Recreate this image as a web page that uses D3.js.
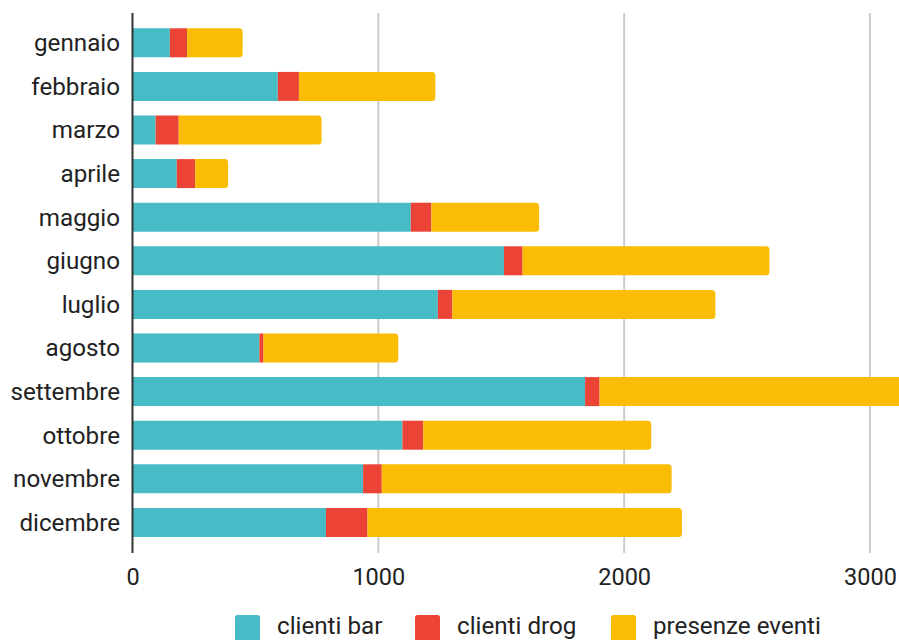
<!DOCTYPE html>
<html>
<head>
<meta charset="utf-8">
<script src="https://cdn.jsdelivr.net/npm/d3@7/dist/d3.min.js"></script>
<style>
  html, body { margin: 0; padding: 0; background: #fff; }
  svg { display: block; font-family: Roboto, "Noto Sans", Arial, sans-serif; }
</style>
</head>
<body>
<svg id="chart" width="899" height="640"></svg>
<script>
// Monthly figures
const months = ["gennaio", "febbraio", "marzo", "aprile", "maggio", "giugno",
  "luglio", "agosto", "settembre", "ottobre", "novembre", "dicembre"];
const clientiBar = [152, 591, 94, 180, 1132, 1511, 1242, 516, 1841, 1098, 938, 787];
const clientiDrog = [70, 86, 94, 75, 84, 76, 59, 17, 59, 85, 76, 169];
const presenzeEventi = [226, 555, 581, 134, 438, 1004, 1070, 548, 1250, 927, 1179, 1279];
const seriesNames = ["clienti bar", "clienti drog", "presenze eventi"];
const seriesColors = ["#47bcc6", "#ec4337", "#fabd03"];
const xTicks = [0, 1000, 2000, 3000];

const W = 899, H = 640;
const svg = d3.select("#chart");

const rows = months.map((m, i) => ({
  month: m,
  "clienti bar": clientiBar[i],
  "clienti drog": clientiDrog[i],
  "presenze eventi": presenzeEventi[i]
}));
const stacked = d3.stack().keys(seriesNames)(rows);

const x = d3.scaleLinear().domain([0, 3000]).range([132.5, 870]);
const y = d3.scaleBand().domain(months).range([21, 544.2])
  .paddingInner(0.335).paddingOuter(0.1675);

// clip so that overflowing bars are cut at the canvas edge
svg.append("defs").append("clipPath").attr("id", "plotClip")
  .append("rect").attr("x", 0).attr("y", 0).attr("width", W).attr("height", H);

// vertical gridlines
svg.append("g").selectAll("line")
  .data(xTicks.filter(d => d > 0))
  .join("line")
  .attr("x1", d => x(d)).attr("x2", d => x(d))
  .attr("y1", 13).attr("y2", 553)
  .attr("stroke", "#cccccc").attr("stroke-width", 2);

// bars
const barsG = svg.append("g").attr("clip-path", "url(#plotClip)");
const r = 3.5;
stacked.forEach((layer, li) => {
  const last = li === stacked.length - 1;
  barsG.append("g").selectAll("path")
    .data(layer)
    .join("path")
    .attr("fill", seriesColors[li])
    .attr("d", d => {
      const x0 = x(d[0]), x1 = x(d[1]);
      const y0 = y(d.data.month), h = y.bandwidth();
      if (!last) {
        return `M${x0},${y0}H${x1}V${y0 + h}H${x0}Z`;
      }
      const rr = Math.min(r, (x1 - x0) / 2);
      return `M${x0},${y0}H${x1 - rr}Q${x1},${y0} ${x1},${y0 + rr}` +
        `V${y0 + h - rr}Q${x1},${y0 + h} ${x1 - rr},${y0 + h}H${x0}Z`;
    });
});

// baseline axis
svg.append("line")
  .attr("x1", x(0)).attr("x2", x(0))
  .attr("y1", 13).attr("y2", 553)
  .attr("stroke", "#333333").attr("stroke-width", 2);

// x tick labels
const xAxis = d3.axisBottom(x).tickValues(xTicks).tickFormat(d3.format("d"))
  .tickSize(0).tickPadding(0);
const xg = svg.append("g").attr("transform", "translate(0,585)").call(xAxis);
xg.select(".domain").remove();
xg.selectAll("text")
  .attr("dy", 0).attr("y", 0)
  .attr("fill", "#222").attr("font-size", 23.5)
  .attr("font-family", "Roboto, sans-serif");

// category labels
const yAxis = d3.axisLeft(y).tickSize(0).tickPadding(0);
const yg = svg.append("g").attr("transform", "translate(120,0)").call(yAxis);
yg.select(".domain").remove();
yg.selectAll("text")
  .attr("fill", "#222").attr("font-size", 24.2)
  .attr("font-family", "Roboto, sans-serif")
  .attr("dy", "0.35em");

// legend
const legendX = [235, 415, 611];
const lg = svg.append("g");
seriesNames.forEach((name, i) => {
  lg.append("rect")
    .attr("x", legendX[i]).attr("y", 615)
    .attr("width", 25).attr("height", 28).attr("rx", 2.5)
    .attr("fill", seriesColors[i]);
  lg.append("text")
    .attr("x", legendX[i] + 42).attr("y", 633.5)
    .attr("font-size", 24.2).attr("fill", "#222")
    .text(name);
});
</script>
</body>
</html>
